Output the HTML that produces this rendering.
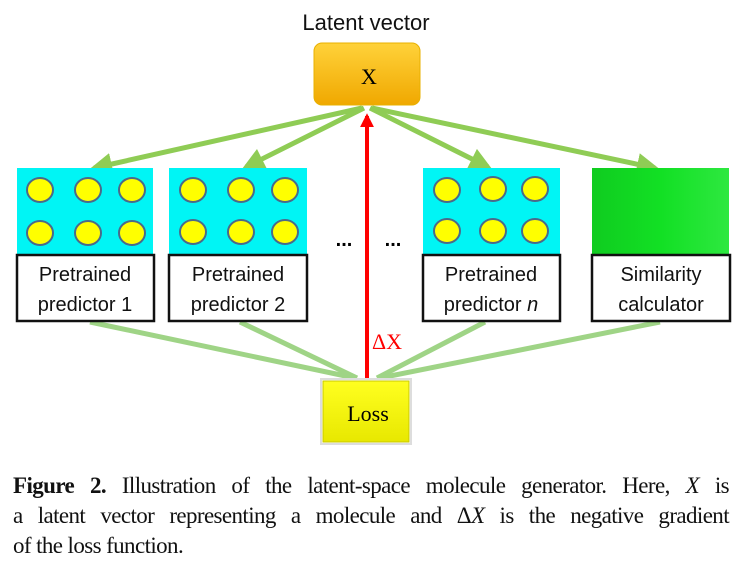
<!DOCTYPE html>
<html><head><style>
body{margin:0;background:#fff;width:732px;height:564px;overflow:hidden;position:relative;font-family:"Liberation Sans",sans-serif}
.cap{position:absolute;left:13px;width:716px;font-family:"Liberation Serif",serif;font-size:23px;line-height:30px;color:#111;letter-spacing:-0.6px;white-space:nowrap}
.j{text-align:justify;text-align-last:justify}
</style></head><body>
<svg width="732" height="564" style="position:absolute;left:0;top:0">
<defs>
<linearGradient id="gx" x1="0" y1="0" x2="0" y2="1"><stop offset="0" stop-color="#ffd23a"/><stop offset="1" stop-color="#f0a800"/></linearGradient>
<linearGradient id="gs" x1="0" y1="0" x2="1" y2="0"><stop offset="0" stop-color="#10cc20"/><stop offset="0.5" stop-color="#12e024"/><stop offset="1" stop-color="#2ee840"/></linearGradient>
<linearGradient id="gl" x1="0" y1="0" x2="0" y2="1"><stop offset="0" stop-color="#ffff20"/><stop offset="1" stop-color="#e8e800"/></linearGradient>
<marker id="ag" viewBox="0 0 10 10" refX="8" refY="5" markerWidth="4.5" markerHeight="4.5" orient="auto"><path d="M0,0L10,5L0,10z" fill="#8fcc55"/></marker>
<marker id="ar" viewBox="0 0 10 10" refX="8" refY="5" markerWidth="3.5" markerHeight="3.5" orient="auto"><path d="M0,0L10,5L0,10z" fill="#f00"/></marker>
</defs>
<text x="366" y="30" text-anchor="middle" font-size="22" fill="#111">Latent vector</text>
<rect x="314" y="43" width="106" height="62" rx="8" fill="url(#gx)" stroke="#e8b000"/>
<text x="369" y="84" text-anchor="middle" font-family="Liberation Serif" font-size="22">X</text>
<g stroke="#8fcc55" stroke-width="5" fill="none" marker-end="url(#ag)">
<line x1="362" y1="108" x2="94" y2="168"/>
<line x1="364" y1="108" x2="246" y2="167"/>
<line x1="370" y1="108" x2="488" y2="167"/>
<line x1="372" y1="108" x2="655" y2="168"/>
</g>
<g stroke="#9fd486" stroke-width="5" fill="none">
<line x1="90" y1="322" x2="355" y2="378"/>
<line x1="240" y1="322" x2="357" y2="378"/>
<line x1="485" y1="322" x2="377" y2="378"/>
<line x1="660" y1="322" x2="380" y2="378"/>
</g>
<line x1="367" y1="380" x2="367" y2="116" stroke="#f00" stroke-width="4" marker-end="url(#ar)"/>
<text x="372" y="349" font-family="Liberation Serif" font-size="22" fill="#f00">ΔX</text>
<g>
<rect x="17" y="168" width="136" height="86" fill="#00f5f5"/>
<rect x="169" y="168" width="138" height="86" fill="#00f5f5"/>
<rect x="423" y="168" width="137" height="86" fill="#00f5f5"/>
<rect x="592" y="168" width="137" height="86" fill="url(#gs)"/>
</g>
<g fill="#ffff00" stroke="#4a6a8a" stroke-width="2">
<ellipse cx="40" cy="190" rx="13" ry="12"/><ellipse cx="88" cy="190" rx="13" ry="12"/><ellipse cx="132" cy="190" rx="13" ry="12"/>
<ellipse cx="40" cy="233" rx="13" ry="12"/><ellipse cx="88" cy="233" rx="13" ry="12"/><ellipse cx="132" cy="233" rx="13" ry="12"/>
<ellipse cx="193" cy="190" rx="13" ry="12"/><ellipse cx="241" cy="190" rx="13" ry="12"/><ellipse cx="285" cy="190" rx="13" ry="12"/>
<ellipse cx="193" cy="232" rx="13" ry="12"/><ellipse cx="241" cy="232" rx="13" ry="12"/><ellipse cx="285" cy="232" rx="13" ry="12"/>
<ellipse cx="447" cy="190" rx="13" ry="12"/><ellipse cx="493" cy="189" rx="13" ry="12"/><ellipse cx="535" cy="189" rx="13" ry="12"/>
<ellipse cx="447" cy="231" rx="13" ry="12"/><ellipse cx="493" cy="231" rx="13" ry="12"/><ellipse cx="535" cy="231" rx="13" ry="12"/>
</g>
<text x="344" y="246" text-anchor="middle" font-size="20" font-weight="bold">...</text>
<text x="393" y="246" text-anchor="middle" font-size="20" font-weight="bold">...</text>
<g fill="#fff" stroke="#111" stroke-width="2.5">
<rect x="17" y="255" width="137" height="66"/>
<rect x="169" y="255" width="138" height="66"/>
<rect x="423" y="255" width="137" height="66"/>
<rect x="592" y="255" width="138" height="66"/>
</g>
<g font-size="20" text-anchor="middle" fill="#111">
<text x="85" y="281">Pretrained</text><text x="85" y="311">predictor 1</text>
<text x="238" y="281">Pretrained</text><text x="238" y="311">predictor 2</text>
<text x="491" y="281">Pretrained</text><text x="491" y="311">predictor <tspan font-style="italic">n</tspan></text>
<text x="661" y="281">Similarity</text><text x="661" y="311">calculator</text>
</g>
<rect x="321" y="379" width="90" height="65" fill="#fff" stroke="#ddd" stroke-width="2"/>
<rect x="323" y="381" width="86" height="61" fill="url(#gl)" stroke="#c8c800"/>
<text x="368" y="421" text-anchor="middle" font-family="Liberation Serif" font-size="22">Loss</text>
</svg>
<div class="cap j" style="top:471px"><b>Figure 2.</b> Illustration of the latent-space molecule generator. Here, <i>X</i> is</div>
<div class="cap j" style="top:501px">a latent vector representing a molecule and Δ<i>X</i> is the negative gradient</div>
<div class="cap" style="top:531px">of the loss function.</div>
</body></html>
